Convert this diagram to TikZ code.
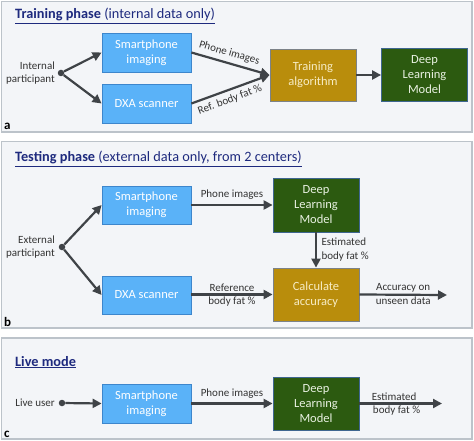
\documentclass[tikz,border=0pt]{standalone}
\usepackage{fontspec}
\setmainfont{Carlito}
\usetikzlibrary{arrows.meta}
\definecolor{panelbg}{HTML}{F3F5F8}
\definecolor{panelbd}{HTML}{BCC3CA}
\definecolor{bluefill}{HTML}{5AB2F8}
\definecolor{bluebd}{HTML}{3D86CC}
\definecolor{mustfill}{HTML}{B98D0C}
\definecolor{mustbd}{HTML}{7C8288}
\definecolor{greenfill}{HTML}{2C5A10}
\definecolor{greenbd}{HTML}{3E6690}
\definecolor{arrowc}{HTML}{3F4347}
\definecolor{titlec}{HTML}{1E2A7E}
\definecolor{labelc}{HTML}{333333}
\definecolor{musttext}{HTML}{F7ECC4}
\definecolor{greentext}{HTML}{E9F1E2}
\tikzset{
  panel/.style={draw=panelbd, fill=panelbg, line width=1.6pt},
  basebox/.style={draw, line width=0.8pt, font=\fontsize{12.5}{15}\selectfont, align=center, inner sep=0pt},
  bluebox/.style={basebox, fill=bluefill, draw=bluebd, text=white, minimum width=89pt, minimum height=39pt},
  mustbox/.style={basebox, fill=mustfill, draw=mustbd, text=musttext, minimum width=86pt, minimum height=52pt},
  greenbox/.style={basebox, fill=greenfill, draw=greenbd, text=greentext, minimum width=86pt, minimum height=53pt},
  flow/.style={draw=arrowc, line width=2.2pt, -{Triangle[length=9pt,width=9pt]}},
  lbl/.style={font=\fontsize{11}{14}\selectfont, text=labelc, inner sep=1.5pt},
  srclbl/.style={font=\fontsize{11}{13}\selectfont, text=labelc, align=right, anchor=east, inner sep=0pt},
  titlelbl/.style={font=\fontsize{14.3}{17}\selectfont, text=titlec, anchor=base west, inner sep=0pt},
  panelid/.style={font=\fontsize{13}{15}\selectfont\bfseries, anchor=base west, inner sep=0pt},
  dotc/.style={circle, fill=arrowc, inner sep=0pt, minimum size=6.5pt}
}
\begin{document}
\begin{tikzpicture}[x=1pt,y=-1pt]
\useasboundingbox (0,0) rectangle (474,441);
% panels
\draw[panel] (1.5,1.5) rectangle (472,132);
\draw[panel] (1.5,141.5) rectangle (472,328);
\draw[panel] (1.5,338) rectangle (472,439);

% ---------- panel a ----------
\node[titlelbl] (ta_title) at (15,19) {\underline{\textbf{Training phase} (internal data only)}};
\node[panelid] (ida) at (4,130) {a};
\node[srclbl] (srca) at (55,73) {Internal\\participant};
\node[dotc] (dota) at (61,73) {};
\node[bluebox] (sa) at (146.5,52.5) {Smartphone\\imaging};
\node[bluebox] (da) at (146.5,103.5) {DXA scanner};
\node[mustbox] (ta) at (313,75) {Training\\algorithm};
\node[greenbox] (dla) at (424.5,75) {Deep\\Learning\\Model};
\draw[flow] (dota) -- (sa.west);
\draw[flow] (dota) -- (da.west);
\draw[flow] (sa.east) -- node[lbl, pos=0.45, above, sloped, inner sep=4pt] {Phone images} (ta.west);
\draw[flow] (da.east) -- node[lbl, pos=0.45, below, sloped, inner sep=4pt] {Ref. body fat \%} (ta.west);
\draw[flow] (ta.east) -- (dla.west);

% ---------- panel b ----------
\node[titlelbl] (tb_title) at (15,162) {\underline{\textbf{Testing phase} (external data only, from 2 centers)}};
\node[panelid] (idb) at (4,326) {b};
\node[srclbl] (srcb) at (55,247) {External\\participant};
\node[dotc] (dotb) at (62,247) {};
\node[bluebox, minimum height=38pt] (sb) at (146.5,205) {Smartphone\\imaging};
\node[bluebox, minimum height=38pt] (db) at (146.5,295) {DXA scanner};
\node[greenbox, minimum height=54pt] (dlb) at (316,205) {Deep\\Learning\\Model};
\node[mustbox, minimum height=53pt] (cb) at (316,294.5) {Calculate\\accuracy};
\coordinate (endb) at (447,295);
\draw[flow] (dotb) -- (sb.west);
\draw[flow] (dotb) -- (db.west);
\draw[flow] (sb.east) -- node[lbl, midway, above, yshift=3pt] {Phone images} (dlb.west);
\draw[flow] (dlb.south) -- node[lbl, midway, right, align=left, xshift=3pt] {Estimated\\body fat \%} (cb.north);
\draw[flow] (db.east |- cb.west) -- node[lbl, midway, above] {Reference} node[lbl, midway, below] {body fat \%} (cb.west);
\draw[flow] (cb.east) -- node[lbl, midway, above] {Accuracy on} node[lbl, midway, below] {unseen data} (endb);

% ---------- panel c ----------
\node[titlelbl] (tc_title) at (15,366) {\underline{\textbf{Live mode}}};
\node[panelid] (idc) at (4,437) {c};
\node[srclbl] (srcc) at (55,403) {Live user};
\node[dotc] (dotc) at (62,403) {};
\node[bluebox] (sc) at (146.5,403.5) {Smartphone\\imaging};
\node[greenbox] (dlc) at (316,403.5) {Deep\\Learning\\Model};
\coordinate (endc) at (442,403.5);
\draw[flow] (dotc) -- (sc.west);
\draw[flow] (sc.east) -- node[lbl, midway, above, yshift=3pt] {Phone images} (dlc.west);
\draw[flow] (dlc.east) -- node[lbl, pos=0.42, above] {Estimated} node[lbl, pos=0.45, below] {body fat \%} (endc);
\end{tikzpicture}
\end{document}
